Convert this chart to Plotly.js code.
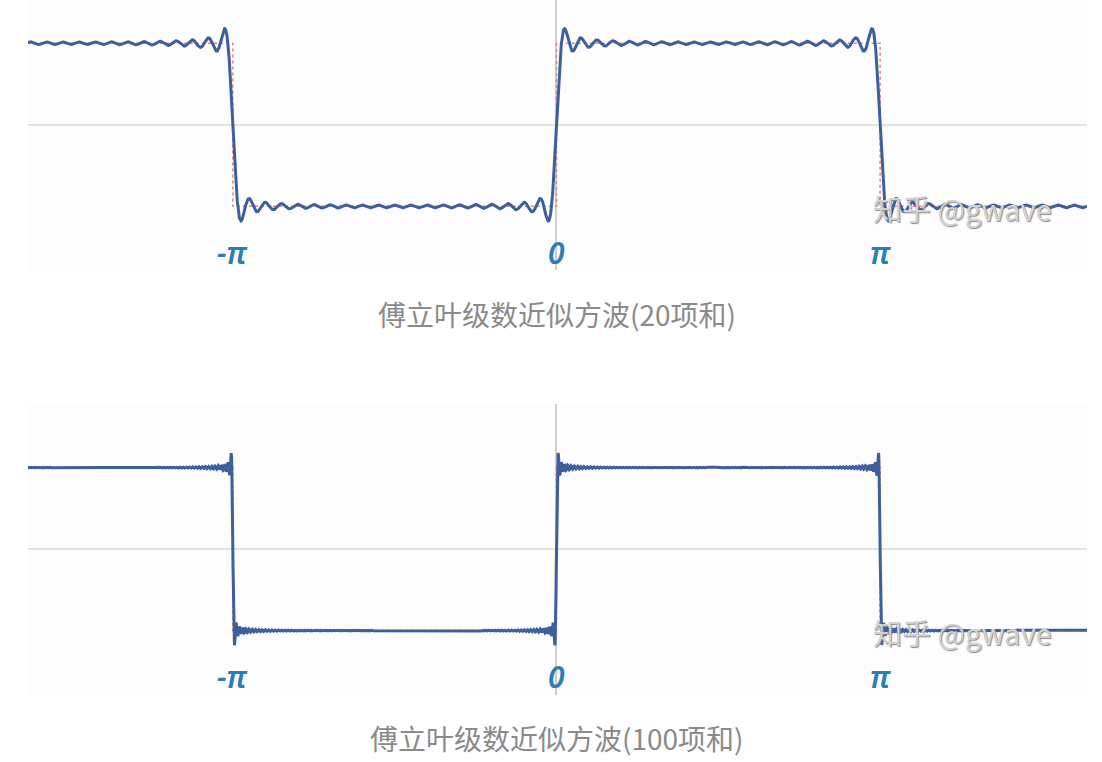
<!DOCTYPE html>
<html>
<head>
<meta charset="utf-8">
<script src="https://cdn.plot.ly/plotly-3.0.1.min.js"></script>
<style>
html,body{margin:0;padding:0;background:#ffffff;}
#chart{width:1102px;height:762px;}
</style>
</head>
<body>
<div id="chart"></div>
<script>
// ---- data ----
const termCounts = [20, 100];                       // number of odd harmonics summed in each panel
const captions = ['傅立叶级数近似方波(20项和)', '傅立叶级数近似方波(100项和)'];
const jumpPoints = [-Math.PI, 0, Math.PI];           // discontinuities of the square wave
const squareLevels = [1, -1, 1, -1];                 // value of the ideal square wave between jumps
const tickLabels = ['-π', '0', 'π'];
const xSpan = [-5.13, 5.15];
const watermark = '知乎 @gwave';

// ---- build traces ----
function partialSum(x, n) {
  let s = 0;
  for (let k = 1; k <= n; k++) {
    const m = 2 * k - 1;
    s += Math.sin(m * x) / m;
  }
  return 4 / Math.PI * s;
}
const step = 0.002;
const xs = [];
for (let x = xSpan[0]; x <= xSpan[1] + 1e-9; x += step) xs.push(x);

// ideal square wave (red dotted)
const sqX = [], sqY = [];
const edges = [xSpan[0]].concat(jumpPoints, [xSpan[1]]);
for (let i = 0; i < squareLevels.length; i++) {
  sqX.push(edges[i], edges[i + 1]);
  sqY.push(squareLevels[i], squareLevels[i]);
}

const traces = [];
termCounts.forEach((n, i) => {
  const ax = i === 0 ? '' : '2';
  traces.push({
    x: sqX, y: sqY, mode: 'lines', xaxis: 'x' + ax, yaxis: 'y' + ax,
    line: {color: '#e88080', width: 1.5, dash: 'dot'}, hoverinfo: 'skip', showlegend: false
  });
  traces.push({
    x: xs, y: xs.map(x => partialSum(x, n)), mode: 'lines', xaxis: 'x' + ax, yaxis: 'y' + ax,
    line: {color: '#3d5f9b', width: 3}, hoverinfo: 'skip', showlegend: false
  });
});

const W = 1102, H = 762;
const xDom = [28 / W, 1087 / W];
const dom1 = [1 - 270 / H, 1];
const dom2 = [1 - 695 / H, 1 - 404 / H];

function xaxis(dom) {
  return {domain: dom, range: xSpan, showgrid: false, showticklabels: false, ticks: '',
    zeroline: true, zerolinecolor: '#cfcfcf', zerolinewidth: 2, showline: false, fixedrange: true};
}
function yaxis(dom, rng, anchor) {
  return {domain: dom, range: rng, anchor: anchor, showgrid: false, showticklabels: false, ticks: '',
    zeroline: true, zerolinecolor: '#e2e2e2', zerolinewidth: 2, showline: false, fixedrange: true};
}

const annotations = [];
[['x', 'y', -1.56], ['x2', 'y2', -1.56]].forEach(([xa, ya, yl]) => {
  jumpPoints.forEach((p, j) => {
    annotations.push({
      x: p, y: yl, xref: xa, yref: ya, text: '<i>' + tickLabels[j] + '</i>', showarrow: false,
      font: {family: 'Noto Sans, DejaVu Sans', size: 30, color: '#2a7db5', weight: 600},
      xanchor: 'center', yanchor: 'middle', borderpad: 0
    });
  });
  annotations.push({
    x: 3.94, y: -1.02, xref: xa, yref: ya, text: watermark, showarrow: false,
    font: {family: 'Noto Sans CJK SC', size: 29, color: '#d2d2d2', shadow: '1px 1px 1px #8a8a8a'},
    xanchor: 'center', yanchor: 'middle', borderpad: 0
  });
});
captions.forEach((c, i) => {
  annotations.push({
    x: 557 / W, y: 1 - (i === 0 ? 314 : 738) / H, xref: 'paper', yref: 'paper',
    text: c, showarrow: false, xanchor: 'center', yanchor: 'middle',
    font: {family: 'Noto Sans CJK SC', size: 28, color: '#8a8a8a'}
  });
});

const layout = {
  width: W, height: H,
  margin: {l: 0, r: 0, t: 0, b: 0},
  paper_bgcolor: '#ffffff', plot_bgcolor: '#fdfdfd',
  showlegend: false,
  xaxis: xaxis(xDom),
  yaxis: yaxis(dom1, [-1.78, 1.53], 'x'),
  xaxis2: Object.assign(xaxis(xDom), {anchor: 'y2'}),
  yaxis2: yaxis(dom2, [-1.79, 1.78], 'x2'),
  annotations: annotations
};

Plotly.newPlot('chart', traces, layout, {displayModeBar: false, staticPlot: true});
</script>
</body>
</html>
